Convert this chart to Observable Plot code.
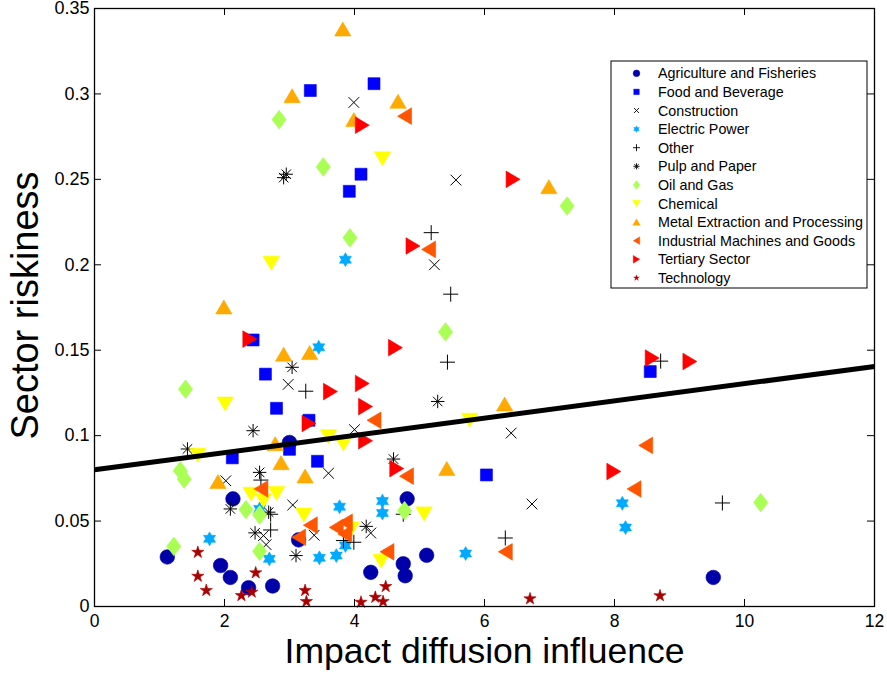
<!DOCTYPE html>
<html>
<head>
<meta charset="utf-8">
<script src="https://cdn.jsdelivr.net/npm/d3@7"></script>
<script src="https://cdn.jsdelivr.net/npm/@observablehq/plot@0.6"></script>
<style>
  html, body { margin: 0; padding: 0; background: #fff; }
  #chart { width: 887px; height: 673px; }
</style>
</head>
<body>
<div id="chart"></div>
<script>
// Sector names, in legend (and drawing) order
const categories = [
  "Agriculture and Fisheries", "Food and Beverage", "Construction", "Electric Power",
  "Other", "Pulp and Paper", "Oil and Gas", "Chemical",
  "Metal Extraction and Processing", "Industrial Machines and Goods", "Tertiary Sector", "Technology"
];

// [impact diffusion influence, sector riskiness] for each firm, per sector
const agriculture = [[1.12,0.029],[1.94,0.024],[2.09,0.017],[2.37,0.011],[2.74,0.012],[2.13,0.063],[3.00,0.096],
  [3.14,0.039],[4.25,0.020],[4.81,0.063],[4.75,0.025],[4.78,0.018],[5.11,0.030],[9.52,0.017]];
const foodBeverage = [[3.32,0.302],[4.30,0.306],[4.10,0.253],[3.92,0.243],[2.44,0.156],[2.63,0.136],[2.80,0.116],
  [3.30,0.109],[2.12,0.087],[3.00,0.092],[3.43,0.085],[6.03,0.077],[8.55,0.1375]];
const construction = [[3.99,0.295],[5.56,0.2496],[5.23,0.200],[2.98,0.130],[4.00,0.1035],[6.41,0.1015],[6.73,0.060],
  [2.02,0.0736],[3.60,0.078],[3.05,0.0594],[3.38,0.0417],[2.60,0.0415],[2.64,0.0362],[4.25,0.043]];
const electricPower = [[3.86,0.203],[3.45,0.1517],[1.77,0.0396],[2.69,0.0279],[3.46,0.0285],[3.72,0.0298],[3.77,0.0584],
  [3.86,0.0357],[4.43,0.0617],[4.43,0.0547],[2.54,0.0571],[5.71,0.031],[8.12,0.0604],[8.17,0.0462]];
const other = [[5.18,0.2188],[5.48,0.1828],[5.43,0.143],[3.25,0.126],[2.56,0.074],[2.71,0.054],[2.71,0.0448],
  [3.83,0.0386],[3.99,0.0376],[6.32,0.0401],[4.75,0.054],[8.71,0.1436],[9.66,0.0606]];
const pulpPaper = [[2.91,0.251],[2.95,0.253],[3.04,0.140],[5.28,0.120],[1.43,0.0922],[2.44,0.1029],[2.54,0.0785],
  [2.09,0.0571],[2.68,0.0552],[2.47,0.0431],[3.10,0.0298],[4.18,0.0469],[4.60,0.0863]];
const oilGas = [[2.84,0.285],[3.52,0.2573],[3.93,0.2158],[7.27,0.2344],[5.40,0.1607],[1.40,0.1272],[1.32,0.0795],
  [1.38,0.0746],[1.22,0.0352],[2.33,0.0567],[2.54,0.0536],[2.54,0.0323],[4.77,0.0561],[10.25,0.0608]];
const chemical = [[4.43,0.262],[2.72,0.2009],[2.01,0.1185],[1.59,0.0885],[3.60,0.0994],[3.83,0.0951],[5.77,0.109],
  [2.41,0.0657],[2.60,0.062],[2.80,0.0662],[3.22,0.0535],[3.95,0.0454],[4.41,0.0265],[5.07,0.0542]];
const metal = [[3.82,0.338],[3.04,0.299],[3.99,0.285],[4.67,0.2957],[6.99,0.2457],[1.99,0.1753],[2.91,0.1477],
  [3.31,0.1486],[6.31,0.1185],[2.78,0.0953],[2.87,0.0842],[3.24,0.0764],[1.90,0.0731],[5.42,0.0808]];
const industrial = [[4.77,0.287],[5.14,0.209],[4.30,0.109],[2.56,0.0688],[3.32,0.0476],[3.14,0.0405],[3.72,0.0463],
  [3.86,0.0493],[3.85,0.0425],[4.50,0.0320],[4.80,0.0763],[6.32,0.032],[8.48,0.0943],[8.30,0.0688]];
const tertiary = [[4.12,0.2817],[6.44,0.250],[4.90,0.211],[4.63,0.1515],[2.39,0.1565],[3.63,0.1258],[4.12,0.1305],
  [4.17,0.117],[3.30,0.1071],[4.17,0.097],[4.65,0.0807],[7.99,0.079],[8.58,0.1454],[9.16,0.1434]];
const technology = [[1.59,0.0317],[1.59,0.0177],[1.72,0.0094],[2.26,0.0064],[2.42,0.0084],[2.48,0.0197],[3.24,0.0094],
  [3.26,0.0029],[4.10,0.0025],[4.32,0.0054],[4.44,0.0029],[4.48,0.0117],[6.70,0.0045],[8.70,0.0063]];

// Least-squares trend line, evaluated at both ends of the x range
const fitX = [0, 12];
const fitY = [0.080, 0.1405];

// Tick values
const xTicks = [0, 2, 4, 6, 8, 10, 12];
const yTicks = [0, 0.05, 0.1, 0.15, 0.2, 0.25, 0.3, 0.35];

// Per-sector marker style (jet colour map, MATLAB-like marker shapes)
const sectorData = [agriculture, foodBeverage, construction, electricPower, other, pulpPaper,
  oilGas, chemical, metal, industrial, tertiary, technology];
const sectorColors = ["#0000aa", "#0000ff", "#000000", "#00aaff", "#000000", "#000000",
  "#aaff55", "#ffff00", "#ffaa00", "#ff5500", "#ff0000", "#aa0000"];
const sectorShapes = ["circle", "square", "times", "hexagram", "plus", "asterisk",
  "diamond", "triDown", "triUp", "triLeft", "triRight", "pentagram"];
const strokeOnly = new Set(["times", "plus", "asterisk"]);

// Custom symbol types; size is an area, r is the nominal radius
function markerShape(draw) {
  return {draw(context, size) { draw(context, Math.sqrt(size / Math.PI)); }};
}
function polygon(c, pts) {
  c.moveTo(pts[0][0], pts[0][1]);
  for (let i = 1; i < pts.length; ++i) c.lineTo(pts[i][0], pts[i][1]);
  c.closePath();
}
function star(c, n, outer, inner) {
  const pts = [];
  for (let i = 0; i < 2 * n; ++i) {
    const a = -Math.PI / 2 + i * Math.PI / n;
    const rr = i % 2 ? inner : outer;
    pts.push([rr * Math.cos(a), rr * Math.sin(a)]);
  }
  polygon(c, pts);
}
const shapes = {
  circle: markerShape((c, r) => { c.moveTo(r, 0); c.arc(0, 0, r, 0, 2 * Math.PI); }),
  square: markerShape((c, r) => { const h = 0.82 * r; c.rect(-h, -h, 2 * h, 2 * h); }),
  times: markerShape((c, r) => {
    const h = 0.73 * r;
    c.moveTo(-h, -h); c.lineTo(h, h); c.moveTo(-h, h); c.lineTo(h, -h);
  }),
  plus: markerShape((c, r) => {
    const h = 1.03 * r;
    c.moveTo(-h, 0); c.lineTo(h, 0); c.moveTo(0, -h); c.lineTo(0, h);
  }),
  asterisk: markerShape((c, r) => {
    const h = 0.92 * r, d = h * Math.SQRT1_2;
    c.moveTo(-h, 0); c.lineTo(h, 0); c.moveTo(0, -h); c.lineTo(0, h);
    c.moveTo(-d, -d); c.lineTo(d, d); c.moveTo(-d, d); c.lineTo(d, -d);
  }),
  hexagram: markerShape((c, r) => star(c, 6, 0.95 * r, 0.95 * r / Math.sqrt(3))),
  pentagram: markerShape((c, r) => star(c, 5, 0.88 * r, 0.88 * r * 0.382)),
  diamond: markerShape((c, r) => polygon(c, [[0, -1.28 * r], [0.98 * r, 0], [0, 1.28 * r], [-0.98 * r, 0]])),
  triUp: markerShape((c, r) => polygon(c, [[0, -0.96 * r], [1.12 * r, 0.96 * r], [-1.12 * r, 0.96 * r]])),
  triDown: markerShape((c, r) => polygon(c, [[0, 0.96 * r], [1.12 * r, -0.96 * r], [-1.12 * r, -0.96 * r]])),
  triLeft: markerShape((c, r) => polygon(c, [[-0.96 * r, 0], [0.96 * r, -1.14 * r], [0.96 * r, 1.14 * r]])),
  triRight: markerShape((c, r) => polygon(c, [[0.96 * r, 0], [-0.96 * r, -1.14 * r], [-0.96 * r, 1.14 * r]]))
};

const W = 887, H = 673;
const margin = {top: 8, right: 13, bottom: 67, left: 94};
const innerW = W - margin.left - margin.right;
const innerH = H - margin.top - margin.bottom;
const tickLen = 7;
const fmt = d => d === 0 ? "0" : String(+d.toFixed(2));

const fitLine = fitX.map((x, i) => ({x, y: fitY[i]}));

const sectorMarks = categories.map((name, i) => {
  const shape = sectorShapes[i];
  const line = strokeOnly.has(shape);
  return Plot.dot(sectorData[i], {
    x: d => d[0],
    y: d => d[1],
    r: 7.3,
    symbol: shapes[shape],
    fill: line ? "none" : sectorColors[i],
    stroke: sectorColors[i],
    strokeWidth: line ? 1 : 0.6
  });
});

const chart = Plot.plot({
  width: W,
  height: H,
  marginTop: margin.top,
  marginRight: margin.right,
  marginBottom: margin.bottom,
  marginLeft: margin.left,
  style: {fontFamily: "'Liberation Sans', Arial, Helvetica, sans-serif", background: "#fff", color: "#000", overflow: "visible"},
  x: {domain: [0, 12], axis: null},
  y: {domain: [0, 0.35], axis: null},
  marks: [
    ...sectorMarks,
    Plot.line(fitLine, {x: "x", y: "y", stroke: "#000", strokeWidth: 5, strokeLinecap: "butt"}),
    // inward ticks on all four sides
    Plot.tickX(xTicks, {x: d => d, insetTop: innerH - tickLen, stroke: "#000"}),
    Plot.tickX(xTicks, {x: d => d, insetBottom: innerH - tickLen, stroke: "#000"}),
    Plot.tickY(yTicks, {y: d => d, insetRight: innerW - tickLen, stroke: "#000"}),
    Plot.tickY(yTicks, {y: d => d, insetLeft: innerW - tickLen, stroke: "#000"}),
    Plot.axisX(xTicks, {tickSize: 0, tickPadding: 8, fontSize: 17.5, tickFormat: fmt, label: null}),
    Plot.axisY(yTicks, {tickSize: 0, tickPadding: 5, fontSize: 18, tickFormat: fmt, label: null}),
    Plot.frame({stroke: "#000", strokeWidth: 1.3}),
    Plot.text(["Impact diffusion influence"], {
      frameAnchor: "bottom", textAnchor: "middle", lineAnchor: "bottom", dy: 56, fontSize: 35.5, fill: "#000"
    }),
    Plot.text(["Sector riskiness"], {
      frameAnchor: "left", textAnchor: "middle", lineAnchor: "bottom", rotate: -90, dx: -57, dy: -2, fontSize: 38, fill: "#000"
    })
  ]
});

// Legend box in the upper right of the plot area
const svg = d3.select(chart);
const legend = svg.append("g").attr("class", "legend").attr("text-anchor", "start");
const lx = 611, ly = 61, lw = 256, lh = 227, row0 = 73.3, rowStep = 18.6;
legend.append("rect")
  .attr("x", lx).attr("y", ly).attr("width", lw).attr("height", lh)
  .attr("fill", "#fff").attr("stroke", "#000").attr("stroke-width", 1);
categories.forEach((name, i) => {
  const y = row0 + i * rowStep;
  const shape = sectorShapes[i];
  const line = strokeOnly.has(shape);
  const rr = 3.4;
  legend.append("path")
    .attr("transform", `translate(636.5,${y})`)
    .attr("d", d3.symbol(shapes[shape], Math.PI * rr * rr)())
    .attr("fill", line ? "none" : sectorColors[i])
    .attr("stroke", sectorColors[i])
    .attr("stroke-width", line ? 0.9 : 0.4);
  legend.append("text")
    .attr("x", 658).attr("y", y).attr("dy", "0.35em")
    .attr("text-anchor", "start")
    .attr("font-size", 14.3)
    .attr("fill", "#000")
    .text(name);
});

document.getElementById("chart").appendChild(chart);
</script>
</body>
</html>
